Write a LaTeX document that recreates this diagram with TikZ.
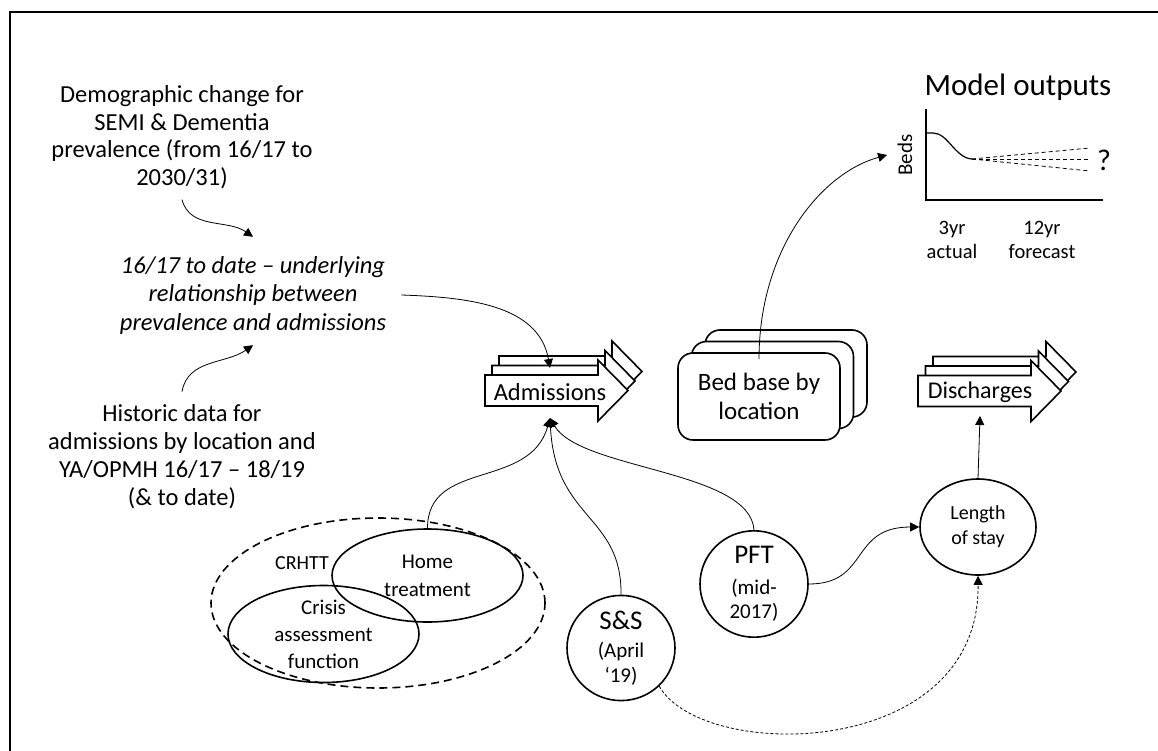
\documentclass[tikz,border=0pt]{standalone}
\usepackage{fontspec}
\setmainfont{Carlito}
\usepackage{tikz}
\usetikzlibrary{arrows.meta, shapes.geometric}

\begin{document}
\begin{tikzpicture}[x=1pt, y=1pt,
		conn/.style={line width=0.8pt, -{Triangle[length=9pt,width=9pt]}},
		oval/.style={draw, ellipse, line width=1.6pt, inner sep=0pt, align=center},
		txt/.style={align=center, inner sep=0pt},
		flowarrow/.pic={
			\draw[line width=1.6pt, fill=white] (0,15.5) -- (113,15.5) -- (113,30.5) -- (143,0) -- (113,-30.5) -- (113,-15.5) -- (0,-15.5) -- cycle;
		}]
	\useasboundingbox (0,0) rectangle (1158,-751);
	% frame
	\draw[line width=2.2pt] (10,-751) -- (10,-12) -- (1158,-12);
	
	% inputs on the left
	\node[txt, font=\fontsize{24.5}{27.5}\selectfont] (demo) at (182,-137) {Demographic change for\\SEMI \& Dementia\\prevalence (from 16/17 to\\2030/31)};
	\node[txt, font=\fontsize{24.5}{28.5}\selectfont\itshape] (rel) at (253,-295) {16/17 to date – underlying\\relationship between\\prevalence and admissions};
	\node[txt, font=\fontsize{24.5}{28}\selectfont] (hist) at (182,-457) {Historic data for\\admissions by location and\\YA/OPMH 16/17 – 18/19\\(\& to date)};
	
	% stacked flow arrows
	\foreach \s in {2,1,0}
		\pic at (485+7*\s, -390.5+9.5*\s) {flowarrow};
	\node[font=\fontsize{24.5}{24.5}\selectfont, inner sep=0pt] (adm) at (550,-392) {Admissions};
	\foreach \s in {2,1,0}
		\pic at (918+7.5*\s, -391+9.5*\s) {flowarrow};
	\node[font=\fontsize{24}{24}\selectfont, inner sep=0pt] (dis) at (980,-392) {Discharges};
	
	% bed base by location
	\foreach \s in {2,1}
		\draw[line width=1.6pt, fill=white, rounded corners=15pt] (678+13.5*\s, -353+11.5*\s) rectangle ++(162,-87);
	\node[draw, line width=1.6pt, fill=white, rounded corners=15pt, minimum width=162pt, minimum height=87pt, align=center, font=\fontsize{25}{29}\selectfont] (bed) at (759,-396.5) {Bed base by\\location};
	
	% model outputs chart
	\node[font=\fontsize{31}{31}\selectfont] (mo) at (1018,-87) {Model outputs};
	\draw[line width=1.6pt] (926,-109) -- (926,-200) -- (1103,-200);
	\draw[line width=1.2pt] (926,-133) -- (933,-133) .. controls (948,-133) and (955,-158) .. (972,-159);
	\foreach \y in {148,159,171}
		\draw[line width=0.8pt, dash pattern=on 4pt off 3pt] (972,-159) -- (1090,-\y);
	\node[rotate=90, font=\fontsize{21}{21}\selectfont] (beds) at (905,-155) {Beds};
	\node[font=\fontsize{30}{30}\selectfont] (q) at (1104,-160) {?};
	\node[txt, font=\fontsize{20.5}{24}\selectfont] (act) at (952,-240) {3yr\\actual};
	\node[txt, font=\fontsize{20.5}{24}\selectfont] (fc) at (1042,-240) {12yr\\forecast};
	
	% CRHTT group
	\node[oval, dashed, dash pattern=on 8pt off 5pt, minimum width=334pt, minimum height=170pt] (grp) at (378,-603) {};
	\node[oval, minimum width=191pt, minimum height=94pt, font=\fontsize{21}{27}\selectfont] (cris) at (323.5,-634) {Crisis\\assessment\\function};
	\node[oval, minimum width=191pt, minimum height=93pt, font=\fontsize{21}{28}\selectfont] (home) at (427.5,-575.5) {Home\\treatment};
	\node[font=\fontsize{20}{20}\selectfont] (crhtt) at (302,-563) {CRHTT};
	
	% drivers
	\node[oval, minimum width=108pt, minimum height=97pt, font=\fontsize{21}{25}\selectfont] (ss) at (621,-648) {{\fontsize{27}{27}\selectfont S\&S}\\[3pt](April\\‘19)};
	\node[oval, minimum width=108pt, minimum height=98pt, font=\fontsize{21}{24}\selectfont] (pft) at (754,-584) {{\fontsize{27}{27}\selectfont PFT}\\[7pt](mid-\\2017)};
	\node[oval, minimum width=116pt, minimum height=96pt, font=\fontsize{20}{25}\selectfont] (los) at (978,-527) {Length\\of stay};
	
	% connectors
	\draw[conn] ([yshift=-11pt]demo.south) to[out=-75,in=145] ([yshift=19pt]rel.north);
	\draw[conn] ([yshift=13pt]hist.north) to[out=80,in=-145] ([yshift=-11pt]rel.south);
	\draw[conn] ([xshift=15pt]rel.east) to[out=-2,in=100] ([yshift=24pt]adm.center);
	\draw[conn] (home.north) .. controls +(0,69) and +(-20,-72) .. ([yshift=-26pt]adm.center);
	\draw[conn] (ss.north) .. controls +(1,80) and +(5,-102) .. ([yshift=-26pt]adm.center);
	\draw[conn] (pft.north) .. controls +(-4,60) and +(30,-52) .. ([yshift=-26pt]adm.center);
	\draw[conn] (pft.east) .. controls +(61,0) and +(-70,0) .. (los.west);
	\draw[conn] (los.north) -- ([yshift=-24pt]dis.center);
	\draw[conn, dash pattern=on 3pt off 2pt] (ss.-45) .. controls +(43,-76) and +(2,-185) .. (los.south);
	\draw[conn] ([yshift=-7pt]bed.north) .. controls +(0,110) and +(-66,-18) .. ([xshift=-7pt]beds.north);
\end{tikzpicture}
\end{document}
